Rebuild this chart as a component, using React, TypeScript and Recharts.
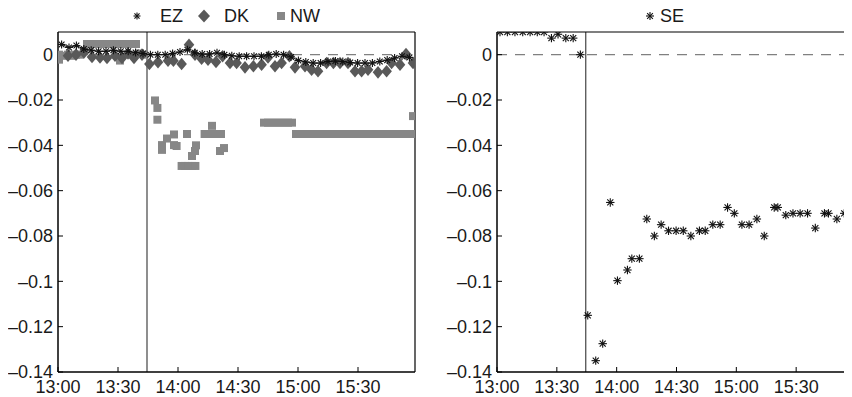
import React from "react";
import {
  ScatterChart,
  Scatter,
  XAxis,
  YAxis,
  ReferenceLine,
} from "recharts";

// minutes after 13:00, value
const ezPoints: [number, number][] = [
  [1.8, 0.0045], [5.5, 0.0032], [9.2, 0.004], [12.9, 0.0025], [16.6, 0.002],
  [20.3, 0.0015], [24, 0.0015], [27.7, 0.002], [31.4, 0.0015], [35.1, 0.0015],
  [38.8, 0.001], [42.5, 0.0005], [46.2, 0], [49.9, 0], [53.6, 0],
  [57.3, 0.0005], [61, 0.0012], [64.7, 0.0022], [68.4, 0.0008], [72.1, 0.0003],
  [75.8, 0.0003], [79.5, 0.0008], [83.2, 0], [86.9, -0.0005], [90.6, -0.0007],
  [94.3, -0.0007], [98, -0.0007], [101.7, -0.0007], [105.4, 0], [109.1, 0.0003],
  [112.8, 0], [116.5, -0.001], [120.2, -0.0026], [123.9, -0.0032], [127.6, -0.0037],
  [131.3, -0.0037], [135, -0.003], [138.7, -0.0028], [142.4, -0.003], [146.1, -0.0035],
  [149.8, -0.0037], [153.5, -0.0037], [157.2, -0.0037], [160.9, -0.003], [164.6, -0.0024],
  [168.3, -0.0015], [172, -0.0007], [175.7, -0.0012],
];

const dkPoints: [number, number][] = [
  [5, -0.0005], [9, 0], [13, 0.001], [17, -0.001], [21, -0.0012], [24.5, -0.0015],
  [28.5, -0.0005], [32, -0.0015], [35, 0.0005], [38, -0.0015], [42, 0],
  [45.7, -0.0041], [50, -0.0033], [55, -0.0027], [57.7, -0.0027], [61.8, -0.0041],
  [65.5, 0.0044], [68.5, 0], [71.8, -0.0018], [75, -0.0022], [79, -0.0032],
  [82.3, -0.0007], [86, -0.0037], [89.3, -0.0037], [93.5, -0.0056], [97.7, -0.0051],
  [101.8, -0.0044], [105, -0.0012], [108.5, -0.0051], [111.8, -0.0037], [115.7, -0.0007],
  [118.5, -0.0056], [123.5, -0.0051], [126.8, -0.0066], [130, -0.0073], [134.3, -0.0037],
  [137.7, -0.0037], [141, -0.0037], [145, -0.0037], [148.5, -0.0073], [151.8, -0.0073],
  [155, -0.0066], [160, -0.0078], [164.3, -0.0073], [166.8, -0.0037], [171, -0.0044],
  [174, 0.0003], [177.5, -0.0037],
];

const nwPoints: [number, number][] = [
  [0.5, -0.0022], [0.5, 0], [3, -0.0005], [5, 0], [7, -0.0005], [9, 0], [11, 0], [13, 0.0015],
  [14.5, 0.0047], [16.5, 0.0047], [18.5, 0.0047], [20.5, 0.0047], [22.5, 0.0047],
  [24.5, 0.0047], [26.5, 0.0047], [28.5, 0.0047], [30.5, 0.0047], [32.5, 0.0047],
  [34.5, 0.0047], [36.5, 0.0047], [38.5, 0.0047], [39, 0.0047], [31, -0.0026],
  [41, 0.0005], [43, 0],
  [48.5, -0.0202], [49.7, -0.0235], [49.7, -0.0287], [52, -0.0399], [52, -0.042],
  [54.5, -0.037], [58, -0.0352], [58, -0.0399], [59.3, -0.0403],
  [61.8, -0.0491], [63.5, -0.0491], [65.2, -0.0491], [67, -0.0491], [68.7, -0.0491],
  [64.5, -0.035], [67, -0.0447], [68.5, -0.0425], [69, -0.04],
  [73.3, -0.035], [75.3, -0.035], [77, -0.0314], [77.3, -0.035], [79.3, -0.035], [81.5, -0.035],
  [81, -0.0425], [83, -0.0412],
  [103, -0.03], [105, -0.03], [107, -0.03], [109, -0.03], [111, -0.03], [113, -0.03],
  [115, -0.03], [117, -0.03],
  [119, -0.035], [121, -0.035], [123, -0.035], [125, -0.035], [127, -0.035], [129, -0.035],
  [131, -0.035], [133, -0.035], [135, -0.035], [137, -0.035], [139, -0.035], [141, -0.035],
  [143, -0.035], [145, -0.035], [147, -0.035], [149, -0.035], [151, -0.035], [153, -0.035],
  [155, -0.035], [157, -0.035], [159, -0.035], [161, -0.035], [163, -0.035], [165, -0.035],
  [167, -0.035], [169, -0.035], [171, -0.035], [173, -0.035], [175, -0.035], [177, -0.035],
  [177.5, -0.0271],
];

const sePoints: [number, number][] = [
  [1.5, 0.01], [5.2, 0.01], [9, 0.01], [12.9, 0.01], [16.6, 0.01], [20.2, 0.01], [23.6, 0.01],
  [27.3, 0.0073], [30.6, 0.009], [34.5, 0.0073], [38.2, 0.0073], [41.8, 0],
  [45.5, -0.115], [49.5, -0.135], [53, -0.1275], [56.8, -0.0652], [60.4, -0.0997],
  [65.4, -0.095], [67.6, -0.09], [71.4, -0.09], [75.1, -0.0725], [78.9, -0.08],
  [82.3, -0.075], [86, -0.0777], [89.8, -0.0777], [93.4, -0.0777], [97.2, -0.08],
  [101.5, -0.0777], [104.4, -0.0777], [108.2, -0.075], [111.9, -0.075], [115.6, -0.0674],
  [119, -0.07], [122.8, -0.075], [126.4, -0.075], [130.3, -0.0725], [134, -0.08],
  [139, -0.0674], [140.8, -0.0674], [144.8, -0.0708], [148.4, -0.07], [152, -0.07],
  [155.7, -0.07], [159.6, -0.0765], [164.2, -0.07], [166.2, -0.07], [170.4, -0.0725],
  [174.1, -0.07], [177.6, -0.075],
];

const xTicks = [0, 30, 60, 90, 120, 150];
const xTickLabels = ["13:00", "13:30", "14:00", "14:30", "15:00", "15:30"];
const yTicks = [0, -0.02, -0.04, -0.06, -0.08, -0.1, -0.12, -0.14];
const yTickLabels = ["0", "\u20130.02", "\u20130.04", "\u20130.06", "\u20130.08", "\u20130.1", "\u20130.12", "\u20130.14"];
const eventTime = 44.5;

const X_DOMAIN: [number, number] = [0, 178.5];
const Y_DOMAIN: [number, number] = [-0.14, 0.01];
const FONT = "'Liberation Sans', Arial, Helvetica, sans-serif";
const FS = 18;
const tickStyle = { fontSize: FS, fill: "#1a1a1a", fontFamily: FONT };

const toData = (pts: [number, number][]) => pts.map(([t, v]) => ({ t, v }));

const Star = (props: any) => {
  const { cx, cy } = props;
  const r = props.r ?? 4;
  const d = r * 0.72;
  if (cx == null || cy == null) return null;
  return (
    <g stroke="#111" strokeWidth={1.1}>
      <line x1={cx - r} y1={cy} x2={cx + r} y2={cy} />
      <line x1={cx} y1={cy - r} x2={cx} y2={cy + r} />
      <line x1={cx - d} y1={cy - d} x2={cx + d} y2={cy + d} />
      <line x1={cx - d} y1={cy + d} x2={cx + d} y2={cy - d} />
    </g>
  );
};

const Diamond = (props: any) => {
  const { cx, cy } = props;
  const w = props.w ?? 5.3;
  const h = props.h ?? 6.3;
  if (cx == null || cy == null) return null;
  return (
    <polygon
      points={`${cx},${cy - h} ${cx + w},${cy} ${cx},${cy + h} ${cx - w},${cy}`}
      fill="#595959"
    />
  );
};

const Square = (props: any) => {
  const { cx, cy } = props;
  const s = props.s ?? 8;
  if (cx == null || cy == null) return null;
  return <rect x={cx - s / 2} y={cy - s / 2} width={s} height={s} fill="#878787" />;
};

const Axes = ({ yWidth }: { yWidth: number }) => [
  <XAxis
    key="xb"
    type="number"
    dataKey="t"
    domain={X_DOMAIN}
    ticks={xTicks}
    allowDataOverflow
    interval={0}
    height={25}
    tickSize={-5}
    tickMargin={13}
    tickFormatter={(v: number) => xTickLabels[xTicks.indexOf(v)] ?? ""}
    tick={tickStyle}
    axisLine={{ stroke: "#000", strokeWidth: 1.5 }}
    tickLine={{ stroke: "#000" }}
  />,
  <XAxis
    key="xt"
    xAxisId="top"
    orientation="top"
    type="number"
    dataKey="t"
    domain={X_DOMAIN}
    ticks={xTicks}
    allowDataOverflow
    height={1}
    tickSize={-5}
    tick={false}
    axisLine={{ stroke: "#000", strokeWidth: 1.2 }}
    tickLine={{ stroke: "#000" }}
  />,
  <YAxis
    key="yl"
    type="number"
    dataKey="v"
    domain={Y_DOMAIN}
    ticks={yTicks}
    allowDataOverflow
    interval={0}
    width={yWidth}
    tickSize={-5}
    tickMargin={10}
    tickFormatter={(v: number) => yTickLabels[yTicks.indexOf(v)] ?? ""}
    tick={tickStyle}
    axisLine={{ stroke: "#000", strokeWidth: 1.5 }}
    tickLine={{ stroke: "#000" }}
  />,
  <YAxis
    key="yr"
    yAxisId="right"
    orientation="right"
    type="number"
    dataKey="v"
    domain={Y_DOMAIN}
    ticks={yTicks}
    allowDataOverflow
    width={1}
    tickSize={-5}
    tick={false}
    axisLine={{ stroke: "#000", strokeWidth: 1.2 }}
    tickLine={{ stroke: "#000" }}
  />,
];

const Guides = () => [
  <ReferenceLine key="zero" y={0} stroke="#808080" strokeDasharray="10 8" strokeWidth={1.2} />,
  <ReferenceLine key="event" x={eventTime} stroke="#444" strokeWidth={1.2} />,
];

export default function App() {
  return (
    <div style={{ position: "relative", width: 844, height: 389, fontFamily: FONT }}>
      <div style={{ position: "absolute", left: 0, top: 0 }}>
        <ScatterChart width={420} height={389} margin={{ top: 23, right: 12, bottom: 0, left: 6 }}>
          {Axes({ yWidth: 44 })}
          {Guides()}
          <Scatter data={toData(nwPoints)} shape={<Square />} isAnimationActive={false} />
          <Scatter data={toData(dkPoints)} shape={<Diamond />} isAnimationActive={false} />
          <Scatter
            data={toData(ezPoints)}
            shape={<Star r={4} />}
            line={{ stroke: "#111", strokeWidth: 1 }}
            lineType="joint"
            isAnimationActive={false}
          />
        </ScatterChart>
      </div>
      <div style={{ position: "absolute", left: 432, top: 0, width: 412, height: 389, overflow: "hidden" }}>
        <ScatterChart width={420} height={389} margin={{ top: 23, right: 6, bottom: 0, left: 13 }}>
          {Axes({ yWidth: 44 })}
          {Guides()}
          <Scatter data={toData(sePoints)} shape={<Star r={4.2} />} isAnimationActive={false} />
        </ScatterChart>
      </div>
      <svg
        width={844}
        height={40}
        style={{ position: "absolute", left: 0, top: -8, pointerEvents: "none" }}
      >
        <Star cx={129} cy={16} r={3.5} />
        <text x={152} y={22} fontSize={FS} fill="#1a1a1a" fontFamily={FONT}>EZ</text>
        <Diamond cx={196} cy={16} w={6} h={6.5} />
        <text x={216} y={22} fontSize={FS} fill="#1a1a1a" fontFamily={FONT}>DK</text>
        <Square cx={273} cy={16} s={8} />
        <text x={282} y={22} fontSize={FS} fill="#1a1a1a" fontFamily={FONT}>NW</text>
        <Star cx={642} cy={16} r={4} />
        <text x={652} y={22} fontSize={FS} fill="#1a1a1a" fontFamily={FONT}>SE</text>
      </svg>
    </div>
  );
}
